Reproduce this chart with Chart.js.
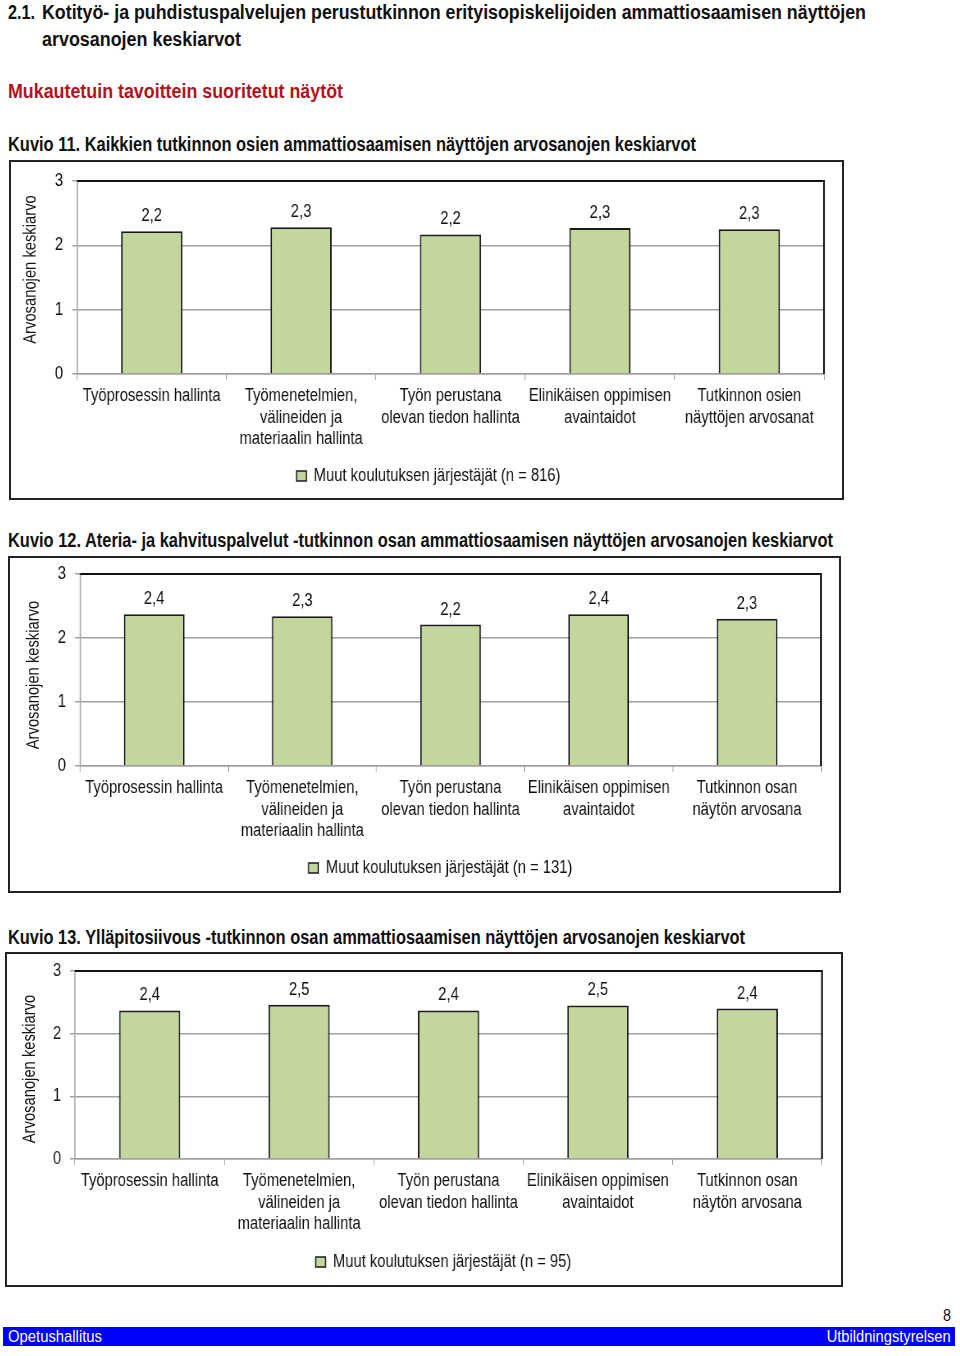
<!DOCTYPE html>
<html>
<head>
<meta charset="utf-8">
<script src="https://cdn.jsdelivr.net/npm/chart.js@4.4.1/dist/chart.umd.min.js"></script>
<style>
  body { margin: 0; width: 960px; height: 1356px; background: #fff; position: relative; overflow: hidden;
         font-family: 'Liberation Sans', Arial, sans-serif; color: #111; }
  .t { position: absolute; white-space: nowrap; font-size: 20px; line-height: 24px; font-weight: bold; transform-origin: left center; }
  .red { color: #b3121c; }
  .box { position: absolute; border: 2px solid #222; box-sizing: border-box; }
  .box canvas { position: absolute; left: 0; top: 0; }
  #footer { position: absolute; left: 3px; top: 1327px; width: 952px; height: 19px; background: #0000ff;
            color: #fff; font-size: 17px; line-height: 19px; }
  #footer span { position: absolute; top: 0; white-space: nowrap; }
</style>
</head>
<body>
<div class="t" style="left:8px;top:0px" data-w="27">2.1.</div>
<div class="t" style="left:42px;top:0px" data-w="824">Kotityö- ja puhdistuspalvelujen perustutkinnon erityisopiskelijoiden ammattiosaamisen näyttöjen</div>
<div class="t" style="left:42px;top:27px" data-w="199">arvosanojen keskiarvot</div>
<div class="t red" style="left:8px;top:79px" data-w="335">Mukautetuin tavoittein suoritetut näytöt</div>

<div class="t" style="left:8px;top:132px" data-w="688">Kuvio 11. Kaikkien tutkinnon osien ammattiosaamisen näyttöjen arvosanojen keskiarvot</div>
<div class="box" style="left:9px;top:160px;width:835px;height:340px"><canvas id="chart11"></canvas></div>

<div class="t" style="left:8px;top:528px" data-w="825">Kuvio 12. Ateria- ja kahvituspalvelut -tutkinnon osan ammattiosaamisen näyttöjen arvosanojen keskiarvot</div>
<div class="box" style="left:8px;top:556px;width:833px;height:337px"><canvas id="chart12"></canvas></div>

<div class="t" style="left:8px;top:925px" data-w="737">Kuvio 13. Ylläpitosiivous -tutkinnon osan ammattiosaamisen näyttöjen arvosanojen keskiarvot</div>
<div class="box" style="left:5px;top:952px;width:838px;height:335px"><canvas id="chart13"></canvas></div>

<div class="t" style="left:943px;top:1304px;font-size:17px;font-weight:normal" data-w="8">8</div>
<div id="footer"><span style="left:5px;transform-origin:left center" data-w="94">Opetushallitus</span><span style="right:4px;transform-origin:right center" data-w="124">Utbildningstyrelsen</span></div>

<script>
// chart data
const categories11 = [
  ["Työprosessin hallinta"],
  ["Työmenetelmien,", "välineiden ja", "materiaalin hallinta"],
  ["Työn perustana", "olevan tiedon hallinta"],
  ["Elinikäisen oppimisen", "avaintaidot"],
  ["Tutkinnon osien", "näyttöjen arvosanat"]
];
const categories12 = [
  ["Työprosessin hallinta"],
  ["Työmenetelmien,", "välineiden ja", "materiaalin hallinta"],
  ["Työn perustana", "olevan tiedon hallinta"],
  ["Elinikäisen oppimisen", "avaintaidot"],
  ["Tutkinnon osan", "näytön arvosana"]
];
const categories13 = categories12;

const values11 = [2.22, 2.28, 2.17, 2.27, 2.25];
const values12 = [2.37, 2.34, 2.21, 2.37, 2.30];
const values13 = [2.37, 2.46, 2.37, 2.45, 2.40];

const series11 = "Muut koulutuksen järjestäjät (n = 816)";
const series12 = "Muut koulutuksen järjestäjät (n = 131)";
const series13 = "Muut koulutuksen järjestäjät (n = 95)";

const yTicks = [0, 1, 2, 3];
const yTitle = "Arvosanojen keskiarvo";

// no narrow font installed: headings are squeezed with scaleX,
// charts are drawn wider and shown at K of their width
const K = 0.82;
const FONT = "'Liberation Sans', Arial, sans-serif";
const TEXT = "#111";
const GRID = "#a0a0a0";
const BAR_FILL = "#c3d69b";
const BAR_EDGE = "#1a1a1a";

document.querySelectorAll("[data-w]").forEach((el) => {
  const w = el.getBoundingClientRect().width;
  el.style.transform = "scaleX(" + el.dataset.w / w + ")";
});

Chart.defaults.font.family = FONT;
Chart.defaults.color = TEXT;

// value above each bar, Finnish decimal comma
const barValueLabels = {
  id: "barValueLabels",
  afterDatasetsDraw(chart) {
    const ctx = chart.ctx;
    const meta = chart.getDatasetMeta(0);
    const data = chart.data.datasets[0].data;
    ctx.save();
    ctx.font = "18px " + FONT;
    ctx.fillStyle = TEXT;
    ctx.textAlign = "center";
    ctx.textBaseline = "alphabetic";
    meta.data.forEach((bar, i) => {
      ctx.fillText(data[i].toFixed(1).replace(".", ","), bar.x, bar.y - 10);
    });
    ctx.restore();
  }
};

// dark top and right edge of the plot area + rotated y title,
// and the legend nudged sideways like in the original
const plotFrame = {
  id: "plotFrame",
  afterLayout(chart, args, opts) {
    const lg = chart.legend;
    if (lg && opts.legendShift) {
      lg.left += opts.legendShift;
      lg.right += opts.legendShift;
    }
  },
  beforeDatasetsDraw(chart, args, opts) {
    const a = chart.chartArea;
    const ctx = chart.ctx;
    ctx.save();
    ctx.strokeStyle = "#111";
    ctx.lineWidth = 2;
    ctx.beginPath();
    ctx.moveTo(a.left, a.top);
    ctx.lineTo(a.right, a.top);
    ctx.lineTo(a.right, a.bottom);
    ctx.stroke();

    ctx.translate(opts.titleX, (a.top + a.bottom) / 2 + (opts.titleShift || 0));
    ctx.rotate(-Math.PI / 2);
    ctx.scale(K, 1 / K);
    ctx.font = "18px " + FONT;
    ctx.fillStyle = TEXT;
    ctx.textAlign = "center";
    ctx.textBaseline = "middle";
    ctx.fillText(yTitle, 0, 0);
    ctx.restore();
  }
};

function makeChart(id, categories, values, seriesLabel, geom) {
  const canvas = document.getElementById(id);
  const backW = Math.round(geom.w / K);
  const sx = backW / geom.w;
  canvas.width = backW;
  canvas.height = geom.h;
  canvas.style.width = geom.w + "px";
  canvas.style.height = geom.h + "px";

  return new Chart(canvas.getContext("2d"), {
    type: "bar",
    data: {
      labels: categories,
      datasets: [
        {
          label: seriesLabel,
          data: values,
          backgroundColor: BAR_FILL,
          borderColor: BAR_EDGE,
          borderWidth: 2,
          categoryPercentage: 1,
          barPercentage: 0.41
        }
      ]
    },
    options: {
      responsive: false,
      animation: false,
      layout: {
        padding: { left: 0, top: geom.top, right: geom.right * sx, bottom: geom.bottom }
      },
      plugins: {
        legend: {
          position: "bottom",
          labels: {
            font: { size: 18 },
            color: TEXT,
            boxWidth: 12,
            boxHeight: 10,
            padding: 8,
            generateLabels(chart) {
              const items = Chart.defaults.plugins.legend.labels.generateLabels(chart);
              items.forEach((it) => (it.lineWidth = 1.5));
              return items;
            }
          }
        },
        tooltip: { enabled: false },
        plotFrame: { titleX: geom.titleX * sx, titleShift: geom.titleShift, legendShift: geom.legendShift * sx }
      },
      scales: {
        x: {
          offset: true,
          grid: { drawOnChartArea: false, drawTicks: true, tickLength: 6, color: GRID },
          border: { color: GRID, width: 1.5 },
          ticks: { font: { size: 18, lineHeight: 1.17 }, color: TEXT, padding: 6, maxRotation: 0, autoSkip: false },
          afterFit: (s) => { s.height = geom.xAxisH; }
        },
        y: {
          min: yTicks[0],
          max: yTicks[yTicks.length - 1],
          afterBuildTicks: (s) => { s.ticks = yTicks.map((v) => ({ value: v })); },
          grid: { color: GRID, lineWidth: 1.5, tickLength: 6 },
          border: { color: GRID, width: 1.5 },
          // small lineHeight keeps the top label from pushing the plot area down
          ticks: { font: { size: 18, lineHeight: 0.5 }, color: TEXT, padding: 11 },
          afterFit: (s) => { s.width = geom.plotLeft * sx; }
        }
      }
    },
    plugins: [plotFrame, barValueLabels]
  });
}

makeChart("chart11", categories11, values11, series11,
  { w: 831, h: 336, plotLeft: 66, top: 19, right: 18, bottom: 3, xAxisH: 85,
    titleX: 20, titleShift: -8, legendShift: 11 });
makeChart("chart12", categories12, values12, series12,
  { w: 829, h: 333, plotLeft: 70, top: 16, right: 18, bottom: 4, xAxisH: 85,
    titleX: 24, titleShift: 5, legendShift: 25 });
makeChart("chart13", categories13, values13, series13,
  { w: 834, h: 331, plotLeft: 68, top: 17, right: 19, bottom: 4, xAxisH: 86,
    titleX: 23, titleShift: 4, legendShift: 29 });
</script>
</body>
</html>
